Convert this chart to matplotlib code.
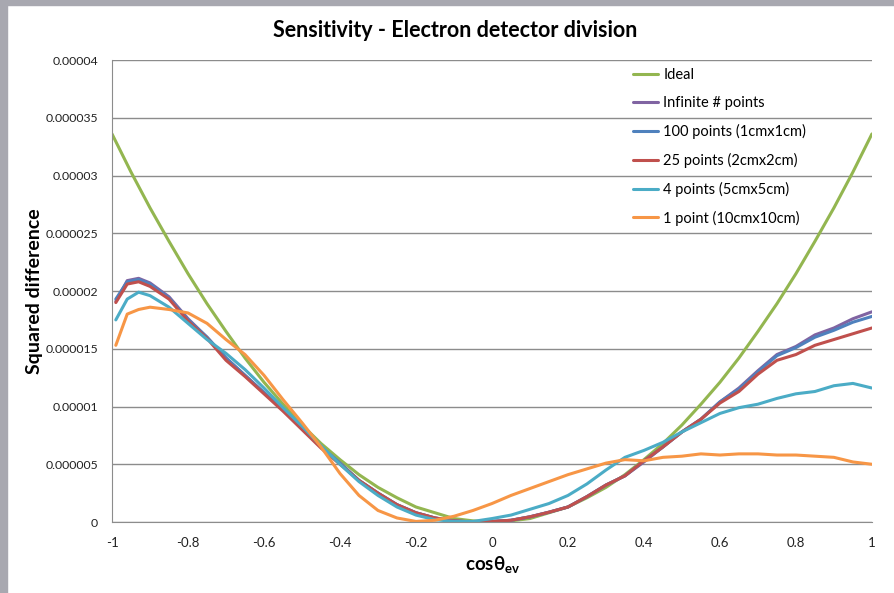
import matplotlib
matplotlib.use('Agg')
import matplotlib.pyplot as plt
import numpy as np
from matplotlib.patches import Rectangle

plt.rcParams['font.family'] = ['Lato', 'DejaVu Sans']
plt.rcParams['mathtext.fontset'] = 'custom'
plt.rcParams['mathtext.rm'] = 'Lato'
plt.rcParams['mathtext.bf'] = 'Lato:bold'

# cos(theta_ev) sample positions
x_ideal = [-1.0, -0.95, -0.9, -0.85, -0.8, -0.75, -0.7, -0.65, -0.6, -0.55, -0.5,
           -0.45, -0.4, -0.35, -0.3, -0.25, -0.2, -0.15, -0.1, -0.05, 0.0,
           0.05, 0.1, 0.15, 0.2, 0.25, 0.3, 0.35, 0.4, 0.45, 0.5,
           0.55, 0.6, 0.65, 0.7, 0.75, 0.8, 0.85, 0.9, 0.95, 1.0]
x_sim = [-0.99, -0.96, -0.93, -0.9, -0.85, -0.8, -0.75, -0.7, -0.65, -0.6, -0.55, -0.5,
         -0.45, -0.4, -0.35, -0.3, -0.25, -0.2, -0.15, -0.1, -0.05, 0.0,
         0.05, 0.1, 0.15, 0.2, 0.25, 0.3, 0.35, 0.4, 0.45, 0.5,
         0.55, 0.6, 0.65, 0.7, 0.75, 0.8, 0.85, 0.9, 0.95, 1.0]

# squared difference, in units of 1e-6
ideal = [33.6, 30.3, 27.2, 24.3, 21.5, 18.9, 16.5, 14.2, 12.1, 10.2, 8.4,
         6.8, 5.4, 4.1, 3.0, 2.1, 1.3, 0.8, 0.3, 0.1, 0.0,
         0.1, 0.3, 0.8, 1.3, 2.1, 3.0, 4.1, 5.4, 6.8, 8.4,
         10.2, 12.1, 14.2, 16.5, 18.9, 21.5, 24.3, 27.2, 30.3, 33.6]
infinite = [19.1, 20.9, 21.1, 20.7, 19.5, 17.6, 16.0, 14.2, 12.7, 11.2, 9.7, 8.1,
            6.5, 5.1, 3.6, 2.5, 1.5, 0.8, 0.35, 0.1, 0.0, 0.05,
            0.15, 0.45, 0.85, 1.3, 2.2, 3.2, 4.0, 5.2, 6.5, 7.8,
            8.9, 10.4, 11.6, 13.1, 14.5, 15.2, 16.2, 16.8, 17.6, 18.2]
pts100 = [19.3, 20.8, 21.0, 20.6, 19.4, 17.5, 16.0, 14.2, 12.7, 11.2, 9.7, 8.1,
          6.5, 5.1, 3.6, 2.5, 1.5, 0.8, 0.35, 0.1, 0.0, 0.05,
          0.15, 0.45, 0.85, 1.3, 2.2, 3.2, 4.0, 5.3, 6.5, 7.8,
          8.9, 10.4, 11.5, 13.0, 14.4, 15.1, 16.0, 16.6, 17.3, 17.8]
pts25 = [19.0, 20.6, 20.8, 20.4, 19.3, 17.4, 15.9, 14.0, 12.6, 11.1, 9.6, 8.0,
         6.4, 5.0, 3.6, 2.5, 1.5, 0.8, 0.35, 0.1, 0.0, 0.05,
         0.15, 0.45, 0.85, 1.3, 2.2, 3.2, 4.0, 5.3, 6.5, 7.8,
         8.9, 10.3, 11.3, 12.8, 14.0, 14.5, 15.3, 15.8, 16.3, 16.8]
pts4 = [17.5, 19.3, 19.9, 19.6, 18.6, 17.2, 15.8, 14.6, 13.2, 11.6, 9.9, 8.3,
        6.6, 5.0, 3.5, 2.3, 1.3, 0.6, 0.2, 0.05, 0.05, 0.3,
        0.6, 1.1, 1.6, 2.3, 3.3, 4.5, 5.6, 6.2, 6.9, 7.8,
        8.6, 9.4, 9.9, 10.2, 10.7, 11.1, 11.3, 11.8, 12.0, 11.6]
pts1 = [15.3, 18.0, 18.4, 18.6, 18.4, 18.1, 17.2, 15.8, 14.5, 12.7, 10.6, 8.6,
        6.5, 4.2, 2.3, 1.0, 0.35, 0.05, 0.15, 0.5, 1.0, 1.6,
        2.3, 2.9, 3.5, 4.1, 4.6, 5.1, 5.4, 5.3, 5.6, 5.7,
        5.9, 5.8, 5.9, 5.9, 5.8, 5.8, 5.7, 5.6, 5.2, 5.0]

labels = ['Ideal', 'Infinite # points', '100 points (1cmx1cm)', '25 points (2cmx2cm)',
          '4 points (5cmx5cm)', '1 point (10cmx10cm)']
colors = ['#93B650', '#8064A2', '#4F81BD', '#C0504D', '#4BACC6', '#F79646']

fig = plt.figure(figsize=(8.94, 5.93), dpi=100)
ax = fig.add_axes([0.1253, 0.1197, 0.85, 0.7791])

series = [(x_ideal, ideal), (x_sim, infinite), (x_sim, pts100), (x_sim, pts25),
          (x_sim, pts4), (x_sim, pts1)]
for (xs, ys), lab, c in zip(series, labels, colors):
    ax.plot(xs, np.array(ys) * 1e-6, color=c, lw=2.2, label=lab, solid_capstyle='round')

ax.set_xlim(-1, 1)
ax.set_ylim(0, 0.00004)
ax.set_xticks(np.arange(-1, 1.01, 0.2))
ax.set_xticklabels(['-1', '-0.8', '-0.6', '-0.4', '-0.2', '0', '0.2', '0.4', '0.6', '0.8', '1'])
ax.set_yticks(np.arange(0, 0.0000401, 0.000005))
ax.set_yticklabels(['0', '0.000005', '0.00001', '0.000015', '0.00002', '0.000025',
                    '0.00003', '0.000035', '0.00004'])
ax.tick_params(length=0, labelsize=9.5, labelcolor='#222222')
ax.tick_params(axis='y', labelsize=8.8, pad=10)
ax.tick_params(axis='x', pad=11)
ax.grid(axis='y', color='#8c8c8c', lw=1)
ax.set_axisbelow(True)
for s in ['top', 'right']:
    ax.spines[s].set_visible(False)
for s in ['left', 'bottom']:
    ax.spines[s].set_color('#8c8c8c')

fig.text(35 / 894, 1 - 291 / 593, 'Squared difference', fontsize=14, fontweight='bold',
         rotation=90, ha='center', va='center')
fig.text(0.551, 0.047, r'cosθ$_{\mathbf{ev}}$', fontsize=13.5, fontweight='bold',
         ha='center', va='center')
fig.text(0.509, 0.948, 'Sensitivity - Electron detector division', fontsize=15.5,
         fontweight='bold', ha='center', va='center')

ax.legend(loc='upper left', bbox_to_anchor=(0.668, 1.011), frameon=False, fontsize=10.5,
          labelspacing=0.95, handlelength=1.7, handletextpad=0.4)

# screenshot frame
fig.patches.append(Rectangle((0, 0), 7 / 894, 1, transform=fig.transFigure,
                             color='#a8a8b0', zorder=0))
fig.patches.append(Rectangle((0, 1 - 5 / 593), 1, 5 / 593, transform=fig.transFigure,
                             color='#a8a8b0', zorder=0))

fig.savefig('out.png', dpi=100)
